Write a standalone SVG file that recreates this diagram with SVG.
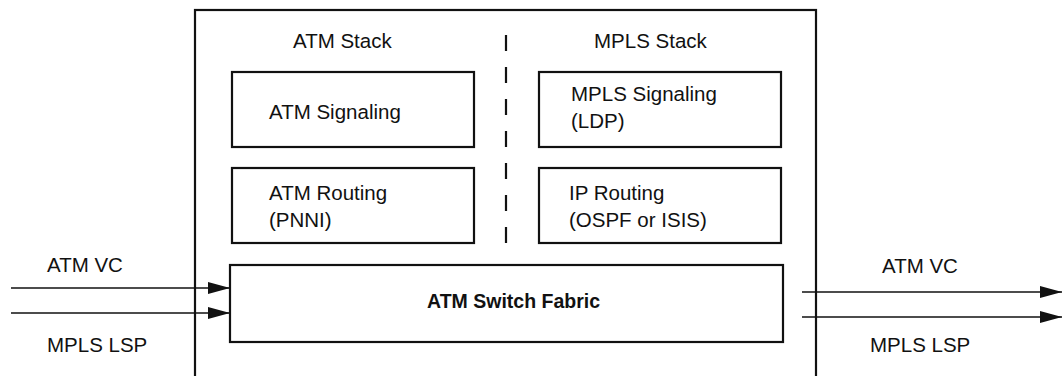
<svg xmlns="http://www.w3.org/2000/svg" width="1063" height="376" viewBox="0 0 1063 376">
<defs>
<style>
.box{fill:#fff;stroke:#111;stroke-width:2.2}
.t{font-family:"Liberation Sans",Arial,sans-serif;font-size:20.5px;fill:#111}
.b{font-weight:bold;font-size:19.5px}
.ln{stroke:#111;stroke-width:1.5;fill:none}
.dash{stroke:#111;stroke-width:2.2;stroke-dasharray:16 16}
</style>
<marker id="ah" markerWidth="22" markerHeight="12" refX="22" refY="6" orient="auto" markerUnits="userSpaceOnUse">
<path d="M0,0 L22,6 L0,12 Z" fill="#111"/>
</marker>
</defs>
<rect width="1063" height="376" fill="#fff"/>
<g id="switch">
<rect class="box" x="195" y="10" width="621" height="380"/>
</g>
<g id="labels">
<text class="t" x="293" y="48">ATM Stack</text>
<text class="t" x="594" y="48">MPLS Stack</text>
<line class="dash" x1="506" y1="35" x2="506" y2="245"/>
</g>
<g id="atm-signaling">
<rect class="box" x="232" y="72" width="242" height="75"/>
<text class="t" x="269" y="119">ATM Signaling</text>
</g>
<g id="atm-routing">
<rect class="box" x="232" y="168" width="242" height="75"/>
<text class="t" x="269" y="200">ATM Routing</text>
<text class="t" x="269" y="227">(PNNI)</text>
</g>
<g id="mpls-signaling">
<rect class="box" x="539" y="72" width="242" height="75"/>
<text class="t" x="571" y="101">MPLS Signaling</text>
<text class="t" x="571" y="128">(LDP)</text>
</g>
<g id="ip-routing">
<rect class="box" x="539" y="168" width="242" height="75"/>
<text class="t" x="569" y="200">IP Routing</text>
<text class="t" x="569" y="227">(OSPF or ISIS)</text>
</g>
<g id="fabric">
<rect class="box" x="230" y="265" width="553" height="77"/>
<text class="t b" x="427" y="308">ATM Switch Fabric</text>
</g>
<g id="connectors">
<line class="ln" x1="11" y1="288" x2="230" y2="288" marker-end="url(#ah)"/>
<line class="ln" x1="11" y1="313" x2="230" y2="313" marker-end="url(#ah)"/>
<line class="ln" x1="802" y1="292" x2="1062" y2="292" marker-end="url(#ah)"/>
<line class="ln" x1="802" y1="317" x2="1062" y2="317" marker-end="url(#ah)"/>
<text class="t" x="47" y="272">ATM VC</text>
<text class="t" x="47" y="352">MPLS LSP</text>
<text class="t" x="882" y="273">ATM VC</text>
<text class="t" x="870" y="352">MPLS LSP</text>
</g>
</svg>
